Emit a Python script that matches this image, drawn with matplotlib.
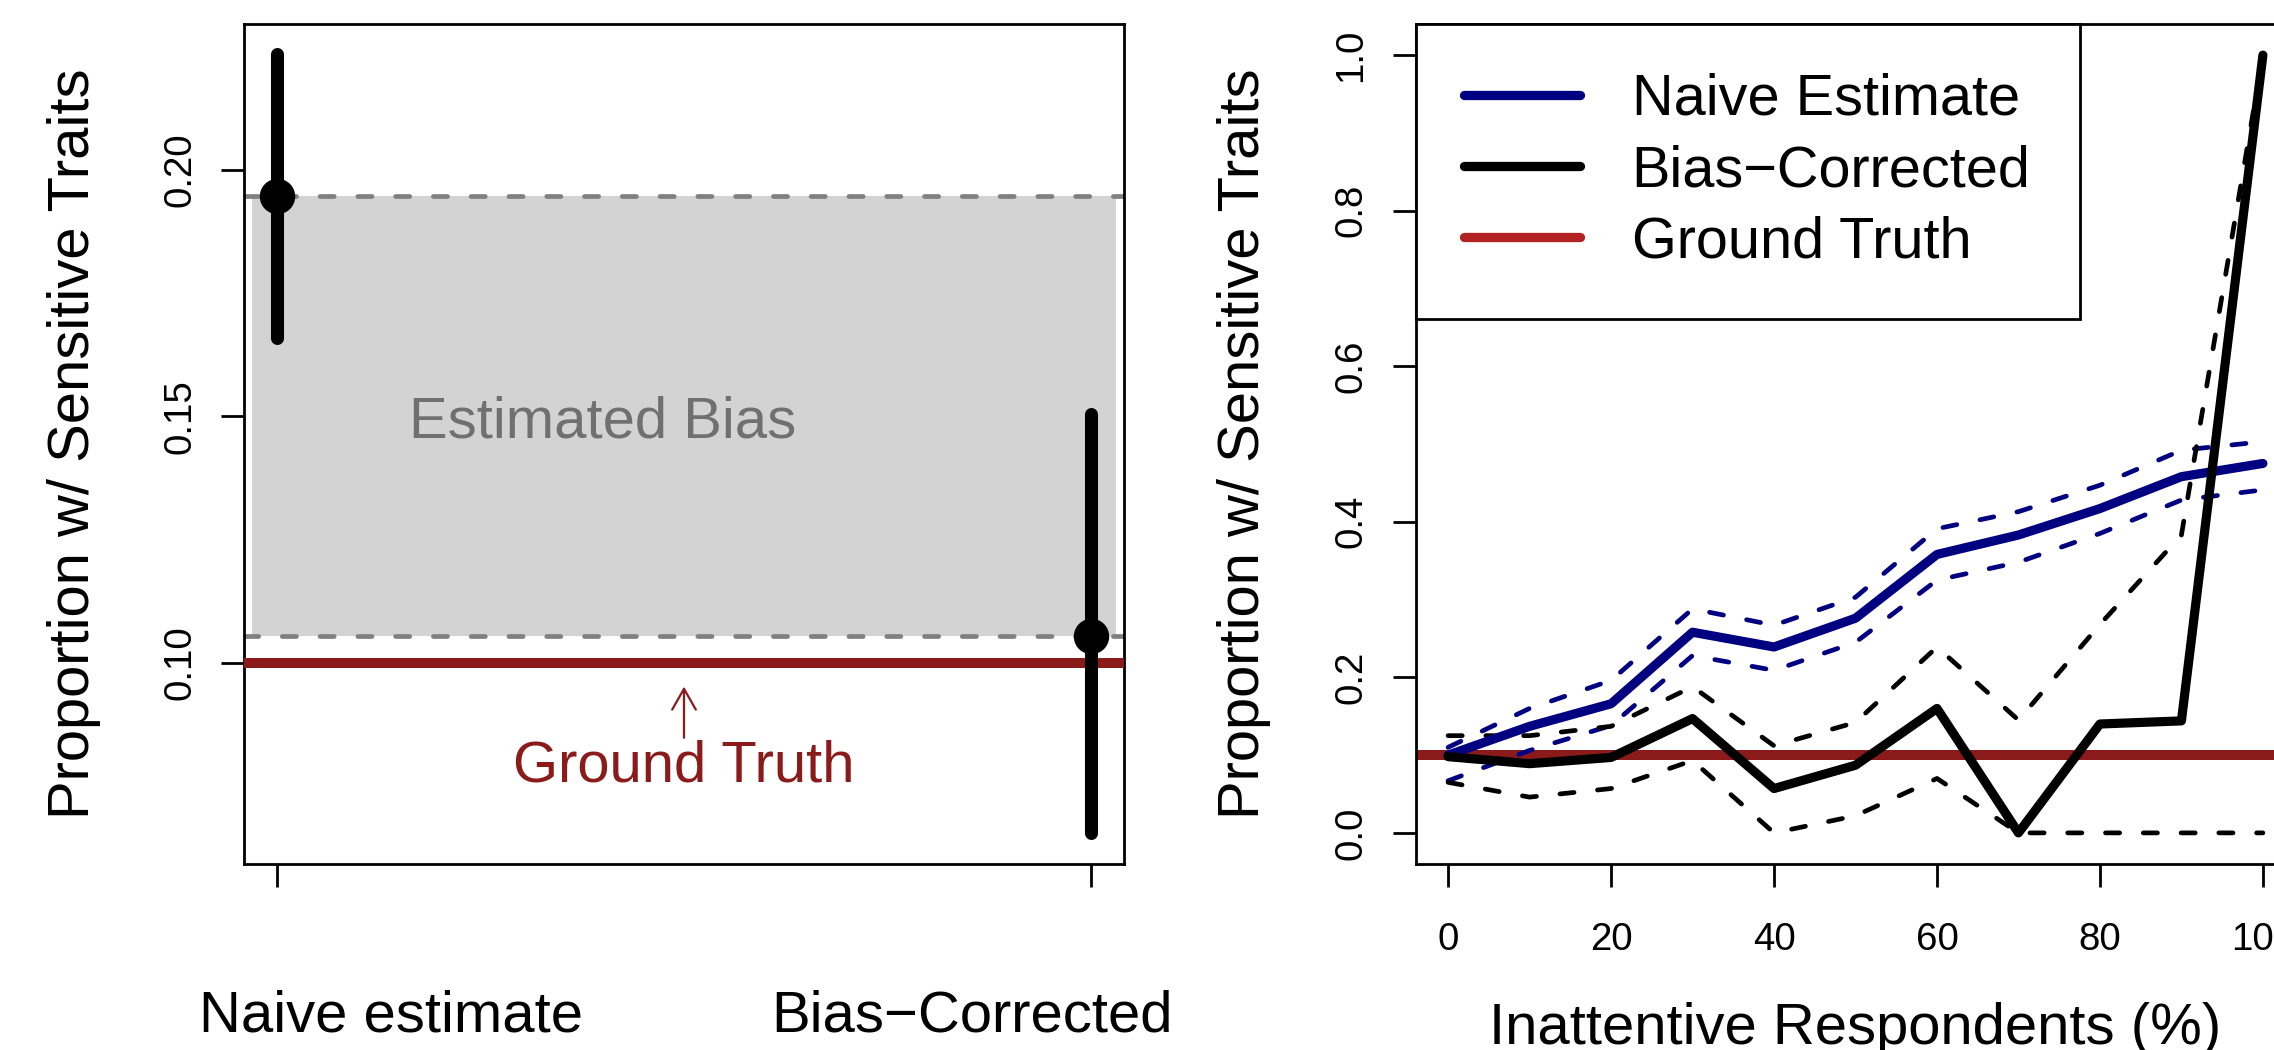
import matplotlib
matplotlib.use("Agg")
import matplotlib.pyplot as plt
from matplotlib.lines import Line2D
import matplotlib.transforms as mtransforms

plt.rcParams['font.family'] = ['Liberation Sans', 'DejaVu Sans']

# ---------------- data ----------------
# Left panel
categories = ["Naive estimate", "Bias\u2212Corrected"]
cat_pos = [1, 2]
point_est = [0.1948, 0.1055]
ci_low = [0.1659, 0.0654]
ci_high = [0.2236, 0.1505]
ground_truth = 0.10
left_yticks = [0.10, 0.15, 0.20]

# Right panel
inattentive_pct = [0, 10, 20, 30, 40, 50, 60, 70, 80, 90, 100]
naive_est = [0.100, 0.137, 0.166, 0.258, 0.239, 0.276, 0.358, 0.383, 0.417, 0.458, 0.475]
naive_upper = [0.110, 0.160, 0.196, 0.288, 0.267, 0.303, 0.391, 0.413, 0.447, 0.492, 0.503]
naive_lower = [0.067, 0.106, 0.138, 0.228, 0.209, 0.245, 0.325, 0.348, 0.385, 0.428, 0.441]
bc_est = [0.098, 0.089, 0.097, 0.147, 0.057, 0.087, 0.160, 0.000, 0.140, 0.144, 1.000]
bc_upper = [0.125, 0.125, 0.137, 0.188, 0.112, 0.142, 0.239, 0.145, 0.268, 0.383, 1.000]
bc_lower = [0.065, 0.046, 0.057, 0.093, 0.000, 0.022, 0.070, 0.000, 0.000, 0.000, 0.000]
right_xticks = [0, 20, 40, 60, 80, 100]
right_yticks = [0.0, 0.2, 0.4, 0.6, 0.8, 1.0]
legend_labels = ["Naive Estimate", "Bias\u2212Corrected", "Ground Truth"]

# ---------------- styling ----------------
W, H = 2274, 1050
DPI = 100
FS = 41.8      # main text size (pt)
TFS = 27.7     # tick label size (pt)
NAVY = '#000080'
DARKRED = '#8B1A1A'
FIREBRICK = '#B22222'

fig = plt.figure(figsize=(W / DPI, H / DPI), dpi=DPI)

ax_w = 880 / W
ax_h = 840 / H
ax_bot = 1 - 864 / H
axL = fig.add_axes([244 / W, ax_bot, ax_w, ax_h])
axR = fig.add_axes([1415.5 / W, ax_bot, ax_w, ax_h])

for ax in (axL, axR):
    for sp in ax.spines.values():
        sp.set_linewidth(2.0)
    ax.tick_params(direction='out', length=16.5, width=2.0, labelsize=TFS)
    ax.tick_params(axis='y', labelrotation=90, pad=16.6)
    ax.tick_params(axis='x', pad=25)

# ---------------- left panel ----------------
axL.set_xlim(0.96, 2.04)
axL.set_ylim(0.0592, 0.2296)
axL.fill_between([0.97, 2.03], point_est[1], point_est[0], color='#D3D3D3', lw=0, zorder=1)
for v in point_est:
    axL.axhline(v, color='#808080', lw=3.4, dashes=(3, 5), dash_capstyle='round', zorder=2)
axL.axhline(ground_truth, color=DARKRED, lw=7.2, zorder=3)
axL.vlines(cat_pos, ci_low, ci_high, color='black', lw=9.4, capstyle='round', zorder=4)
axL.plot(cat_pos, point_est, 'o', color='black', markersize=24.5, zorder=5)
axL.set_xticks(cat_pos)
axL.set_xticklabels(['', ''])
axL.set_yticks(left_yticks)
axL.set_yticklabels([f"{v:.2f}" for v in left_yticks])
for tl in axL.get_yticklabels():
    tl.set_va('center')

axL.text(1.40, 0.1458, "Estimated Bias", color='#707070', fontsize=FS,
         ha='center', va='baseline', zorder=6)
axL.annotate("", xy=(1.5, 0.0952), xytext=(1.5, 0.0848),
             arrowprops=dict(arrowstyle='->,head_length=1.5,head_width=0.85',
                             color=DARKRED, lw=1.6, shrinkA=0, shrinkB=0))
axL.text(1.5, 0.0760, "Ground Truth", color=DARKRED, fontsize=FS,
         ha='center', va='baseline', zorder=6)

trL = mtransforms.blended_transform_factory(axL.transData, axL.transAxes)
cat_label_x = [1.14, 1.853]
for xl, lab in zip(cat_label_x, categories):
    axL.text(xl, -167 / 840, lab, transform=trL, fontsize=FS,
             ha='center', va='baseline', clip_on=False)

axL.set_ylabel("Proportion w/ Sensitive Traits", fontsize=FS, va='center')
axL.yaxis.set_label_coords(-170 / 880, 0.5)

# ---------------- right panel ----------------
axR.set_xlim(-4, 104)
axR.set_ylim(-0.04, 1.04)
axR.axhline(ground_truth, color=DARKRED, lw=7.2, zorder=1)
for series, col in ((naive_upper, NAVY), (naive_lower, NAVY),
                    (bc_upper, 'black'), (bc_lower, 'black')):
    axR.plot(inattentive_pct, series, color=col, lw=3.4, dashes=(3, 5),
             dash_capstyle='round', zorder=2)
axR.plot(inattentive_pct, naive_est, color=NAVY, lw=6.6, solid_capstyle='round',
         solid_joinstyle='round', zorder=3)
axR.plot(inattentive_pct, bc_est, color='black', lw=6.6, solid_capstyle='round',
         solid_joinstyle='round', zorder=3)
axR.set_xticks(right_xticks)
axR.set_xticklabels([str(v) for v in right_xticks])
axR.set_yticks(right_yticks)
axR.set_yticklabels([f"{v:.1f}" for v in right_yticks])
for tl in axR.get_yticklabels():
    tl.set_va('center')

axR.set_xlabel("Inattentive Respondents (%)", fontsize=FS, va='baseline')
axR.xaxis.set_label_coords(0.5, -180 / 840)
axR.set_ylabel("Proportion w/ Sensitive Traits", fontsize=FS, va='center')
axR.yaxis.set_label_coords(-171.5 / 880, 0.5)

handles = [Line2D([], [], color=NAVY, lw=6.7, solid_capstyle='round'),
           Line2D([], [], color='black', lw=6.7, solid_capstyle='round'),
           Line2D([], [], color=FIREBRICK, lw=6.7, solid_capstyle='round')]
leg = axR.legend(handles, legend_labels, loc='upper left', bbox_to_anchor=(0, 1),
                 borderaxespad=0, fancybox=False, edgecolor='black', framealpha=1,
                 fontsize=41.5, handlelength=2.0, handletextpad=0.9, borderpad=0.85,
                 labelspacing=0.3)
leg.get_frame().set_linewidth(2.0)
leg.set_zorder(10)

fig.savefig("out.png", dpi=DPI)
